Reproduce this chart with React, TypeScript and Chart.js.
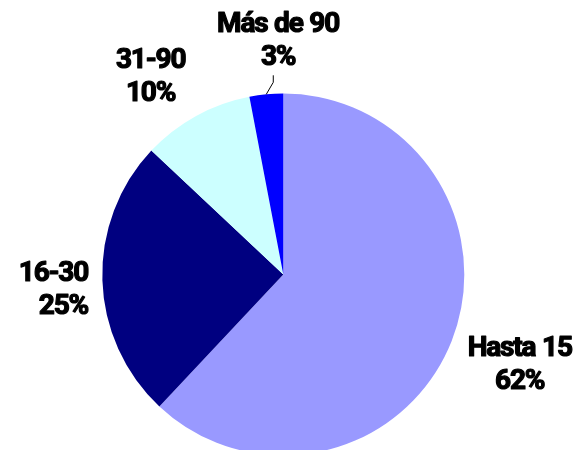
import React, { useEffect, useRef } from "react";
import { Chart, registerables } from "chart.js";

Chart.register(...registerables);

const categories = ["Hasta 15", "16-30", "31-90", "Más de 90"];
const values = [62, 25, 10, 3];
const percentLabels = ["62%", "25%", "10%", "3%"];
const colors = ["#9999FF", "#000080", "#CCFFFF", "#0000FF"];

// label styling (distance beyond rim, nudges, alignment)
const labelGap = 55;
const labelShiftX = [17, 6, -19, 17];
const labelShiftY = [1, 6, 7, -1];
const labelAlign: CanvasTextAlign[] = ["center", "right", "center", "center"];
const leaderFor = [false, false, false, true];

const FONT = "bold 28px Roboto";
const LINE_GAP = 33;
const CAP = 20;

const labelPlugin = {
  id: "outerLabels",
  afterDatasetsDraw(chart: any) {
    const ctx: CanvasRenderingContext2D = chart.ctx;
    const meta = chart.getDatasetMeta(0);
    ctx.save();
    ctx.font = FONT;
    (ctx as any).letterSpacing = "-1.2px";
    (ctx as any).wordSpacing = "1px";
    ctx.fillStyle = "#000000";
    ctx.strokeStyle = "#000000";
    ctx.lineJoin = "round";
    ctx.textBaseline = "alphabetic";
    meta.data.forEach((arc: any, i: number) => {
      const { x, y, startAngle, endAngle, outerRadius } = arc.getProps(
        ["x", "y", "startAngle", "endAngle", "outerRadius"],
        true
      );
      const mid = (startAngle + endAngle) / 2;
      const R = outerRadius + labelGap;
      const cx = x + Math.cos(mid) * R + labelShiftX[i];
      const cy = y + Math.sin(mid) * R + labelShiftY[i];
      const lines = [categories[i], percentLabels[i]];
      let ax = cx;
      if (labelAlign[i] === "right") {
        const w = Math.max(...lines.map((l) => ctx.measureText(l).width));
        ax = cx + w / 2;
      }
      ctx.textAlign = labelAlign[i];
      lines.forEach((l, k) => {
        const lineCenter = cy + (k - 0.5) * LINE_GAP;
        ctx.lineWidth = 1.2;
        ctx.strokeText(l, ax, lineCenter + CAP / 2);
        ctx.fillText(l, ax, lineCenter + CAP / 2);
      });
      if (leaderFor[i]) {
        const sx = x + Math.cos(mid) * outerRadius;
        const sy = y + Math.sin(mid) * outerRadius;
        ctx.beginPath();
        ctx.lineWidth = 1;
        ctx.moveTo(sx, sy);
        ctx.lineTo(sx + 7, sy - 12);
        ctx.lineTo(sx + 7, sy - 19);
        ctx.stroke();
      }
    });
    ctx.restore();
  },
};

export default function App() {
  const ref = useRef<HTMLCanvasElement>(null);
  useEffect(() => {
    document.body.style.margin = "0";
    if (!ref.current) return;
    const chart = new Chart(ref.current, {
      type: "pie",
      data: {
        labels: categories,
        datasets: [
          {
            data: values,
            backgroundColor: colors,
            borderWidth: 0,
          },
        ],
      },
      options: {
        responsive: false,
        animation: false,
        layout: { padding: { left: 102.3, right: 121.7, top: 93.5, bottom: 4.5 } },
        plugins: {
          legend: { display: false },
          tooltip: { enabled: false },
        },
      },
      plugins: [labelPlugin],
    });
    return () => chart.destroy();
  }, []);
  return (
    <div
      style={{
        position: "absolute",
        left: 0,
        top: 0,
        width: 586,
        height: 450,
        overflow: "hidden",
        background: "#ffffff",
      }}
    >
      <canvas ref={ref} width={586} height={460} style={{ width: 586, height: 460 }} />
    </div>
  );
}
